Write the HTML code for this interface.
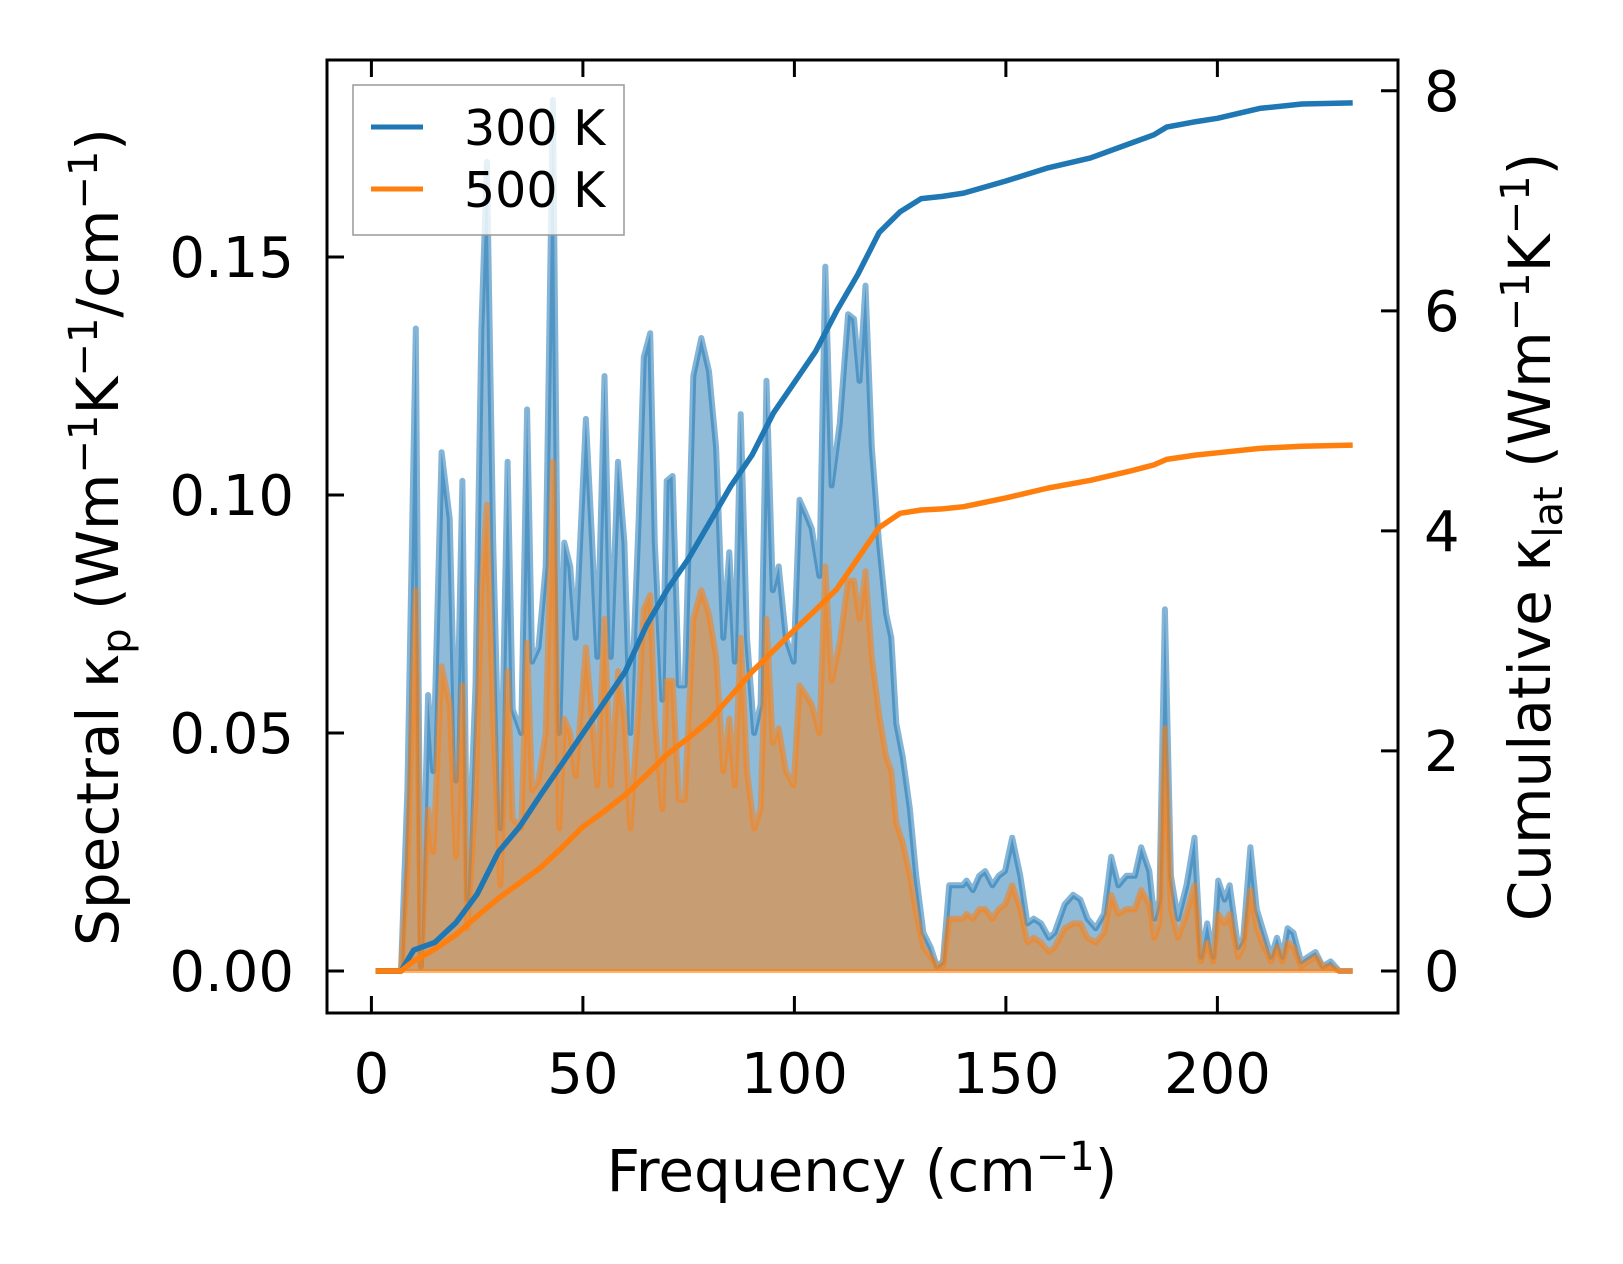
<!DOCTYPE html>
<html><head><meta charset="utf-8"><style>
html,body{margin:0;padding:0;background:#fff;}
svg{display:block;font-family:"DejaVu Sans","Liberation Sans",sans-serif;}
</style></head><body>
<svg id="chart" width="1623" height="1264" viewBox="0 0 1623 1264" xmlns="http://www.w3.org/2000/svg">
<g id="plot"></g>
<g id="axes"></g>
</svg>
<script>
const freqs=[1,7,8.5,10.5,11.7,13.4,14.6,16.6,18.5,20,21.5,22.7,24.6,26,27.3,28.8,30.5,32.2,33.4,35.4,36.8,38,39.5,41.2,42.9,44.4,45.6,47,48.3,50.7,52.2,53.4,55.1,56.6,58.3,59.8,61.2,63.2,64.4,65.9,67,68.8,69.8,71.2,72.7,74.1,76.1,78,79.8,81.5,83.2,84.6,85.9,87.3,88.8,90.5,92,93.4,94.9,96.3,98,99.8,101.2,102.7,104.1,105.9,107.3,108.8,110.7,112.7,114.1,115.4,116.8,118.3,120,121.7,122.9,124.1,125.6,127.3,128.8,130.5,132.2,133.7,135.1,136.6,138.3,139.8,140.7,142.2,143.7,145.1,146.8,148.3,149.8,151.5,153.4,155.1,156.6,158.3,160.2,161.5,163.9,165.9,167.6,169.3,171.2,173.2,174.9,176.6,178.5,180.5,182,183.9,185.1,186.3,187.6,189,190.7,192.7,194.6,196.1,197.6,199,200.2,201.7,202.9,204.9,206.1,207.8,209.3,211,212.7,214.1,215.4,216.6,218,219.8,221.5,223.2,224.9,226.8,228.8,230.2,232];
const spec300=[0,0,0.038,0.135,0.001,0.058,0.042,0.109,0.095,0.04,0.103,0.015,0.06,0.135,0.17,0.09,0.03,0.107,0.055,0.05,0.118,0.065,0.068,0.085,0.183,0.05,0.09,0.085,0.07,0.116,0.09,0.066,0.125,0.066,0.107,0.09,0.05,0.095,0.129,0.134,0.09,0.057,0.103,0.104,0.06,0.06,0.125,0.133,0.126,0.11,0.07,0.088,0.065,0.117,0.07,0.05,0.056,0.124,0.08,0.085,0.07,0.065,0.099,0.096,0.093,0.083,0.148,0.102,0.115,0.138,0.137,0.124,0.144,0.11,0.09,0.075,0.07,0.052,0.045,0.034,0.02,0.008,0.005,0.001,0.002,0.018,0.018,0.018,0.019,0.017,0.02,0.021,0.018,0.02,0.021,0.028,0.02,0.01,0.011,0.01,0.007,0.008,0.014,0.016,0.015,0.011,0.009,0.012,0.024,0.018,0.02,0.02,0.026,0.021,0.011,0.015,0.076,0.02,0.011,0.018,0.028,0.003,0.01,0.003,0.019,0.015,0.018,0.005,0.007,0.026,0.013,0.008,0.003,0.007,0.003,0.009,0.008,0.002,0.003,0.004,0.001,0.002,0,0,0];
const spec500=[0,0,0.022,0.08,0.001,0.034,0.025,0.064,0.056,0.024,0.06,0.009,0.036,0.08,0.098,0.053,0.018,0.063,0.032,0.03,0.069,0.038,0.04,0.05,0.107,0.03,0.053,0.05,0.041,0.068,0.053,0.039,0.074,0.039,0.063,0.053,0.03,0.056,0.076,0.079,0.053,0.034,0.061,0.061,0.036,0.036,0.074,0.08,0.075,0.066,0.042,0.053,0.039,0.07,0.042,0.03,0.034,0.074,0.048,0.051,0.042,0.039,0.06,0.058,0.056,0.05,0.085,0.061,0.069,0.082,0.082,0.074,0.084,0.066,0.054,0.045,0.042,0.031,0.027,0.02,0.012,0.005,0.003,0.001,0.001,0.011,0.011,0.011,0.012,0.011,0.013,0.013,0.011,0.013,0.014,0.018,0.013,0.006,0.007,0.006,0.004,0.005,0.009,0.01,0.01,0.007,0.006,0.008,0.016,0.012,0.013,0.013,0.017,0.014,0.007,0.01,0.051,0.013,0.007,0.012,0.018,0.002,0.006,0.002,0.012,0.01,0.012,0.003,0.005,0.017,0.009,0.005,0.002,0.005,0.002,0.006,0.005,0.001,0.002,0.003,0.001,0.001,0,0,0];
const cumFreqs=[1,7,10,15,20,25,30,35,40,45,50,55,60,65,70,75,80,85,90,95,100,105,110,115,120,125,130,135,140,150,160,170,180,185,188,195,200,210,220,232];
const cum300=[0,0,0.19,0.26,0.44,0.7,1.08,1.31,1.6,1.88,2.16,2.44,2.72,3.14,3.47,3.75,4.08,4.41,4.69,5.07,5.35,5.63,6.0,6.33,6.71,6.9,7.02,7.04,7.07,7.18,7.3,7.39,7.53,7.6,7.67,7.72,7.75,7.84,7.88,7.89];
const cum500=[0,0,0.09,0.2,0.33,0.5,0.66,0.8,0.94,1.12,1.31,1.45,1.6,1.78,1.97,2.12,2.28,2.5,2.72,2.91,3.1,3.28,3.47,3.75,4.03,4.16,4.19,4.2,4.22,4.3,4.39,4.46,4.55,4.6,4.65,4.69,4.71,4.75,4.77,4.78];
const xTicks=[0,50,100,150,200];
const yLeftTicks=[0,0.05,0.10,0.15];
const yLeftLabels=["0.00","0.05","0.10","0.15"];
const yRightTicks=[0,2,4,6,8];

const L=327,R=1398,T=60,B=1013;
const xmin=-10.5,xmax=242.7,ylmin=-0.00882,ylmax=0.1914,yrmin=-0.382,yrmax=8.28;
const X=v=>L+(v-xmin)/(xmax-xmin)*(R-L);
const YL=v=>B-(v-ylmin)/(ylmax-ylmin)*(B-T);
const YR=v=>B-(v-yrmin)/(yrmax-yrmin)*(B-T);
const NS="http://www.w3.org/2000/svg";
function mk(tag,attrs,parent){const e=document.createElementNS(NS,tag);for(const k in attrs)e.setAttribute(k,attrs[k]);parent.appendChild(e);return e;}
const plot=document.getElementById('plot'),axes=document.getElementById('axes');
mk('clipPath',{id:'clip'},plot).appendChild(document.createElementNS(NS,'rect'));
const cr=plot.querySelector('#clip rect');cr.setAttribute('x',L);cr.setAttribute('y',T);cr.setAttribute('width',R-L);cr.setAttribute('height',B-T);
const g=mk('g',{'clip-path':'url(#clip)'},plot);
function linePts(xs,ys,fy){return xs.map((x,i)=>X(x).toFixed(1)+','+fy(ys[i]).toFixed(1)).join(' ');}
function area(xs,ys,color,name){
  const pts=linePts(xs,ys,YL)+' '+X(xs[xs.length-1]).toFixed(1)+','+YL(0)+' '+X(xs[0]).toFixed(1)+','+YL(0);
  const p=mk('polygon',{points:pts,fill:color,'fill-opacity':0.5},g);
  
  
  const l=mk('polyline',{points:linePts(xs,ys,YL),fill:'none',stroke:color,'stroke-width':6,'stroke-opacity':0.55,'stroke-linejoin':'round'},g);
  
  
}
area(freqs,spec300,'#1f77b4','spectral-300k');
area(freqs,spec500,'#ff7f0e','spectral-500k');
const base=mk('line',{x1:X(1),x2:X(232),y1:YL(0),y2:YL(0),stroke:'#ff7f0e','stroke-width':4,'stroke-opacity':0.6},g);


const c3=mk('polyline',{points:linePts(cumFreqs,cum300,YR),fill:'none',stroke:'#1f77b4','stroke-width':5.5,'stroke-linejoin':'round'},g);


const c5=mk('polyline',{points:linePts(cumFreqs,cum500,YR),fill:'none',stroke:'#ff7f0e','stroke-width':5.5,'stroke-linejoin':'round'},g);



const fs=56;
xTicks.forEach(v=>{
  const x=X(v);
  const t1=mk('line',{x1:x,x2:x,y1:B,y2:B-17,stroke:'#000','stroke-width':3},axes);
  
  
  const t2=mk('line',{x1:x,x2:x,y1:T,y2:T+17,stroke:'#000','stroke-width':3},axes);
  
  
  const tx=mk('text',{x:x,y:1093,'text-anchor':'middle','font-size':fs},axes);tx.textContent=v;
  
  
});
yLeftTicks.forEach((v,i)=>{
  const y=YL(v);
  const t=mk('line',{x1:L,x2:L+17,y1:y,y2:y,stroke:'#000','stroke-width':3},axes);
  
  
  const tx=mk('text',{x:294,y:y+20,'text-anchor':'end','font-size':fs},axes);tx.textContent=yLeftLabels[i];
  
  
});
yRightTicks.forEach(v=>{
  const y=YR(v);
  const t=mk('line',{x1:R,x2:R-17,y1:y,y2:y,stroke:'#000','stroke-width':3},axes);
  
  
  const tx=mk('text',{x:1424,y:y+20,'text-anchor':'start','font-size':fs},axes);tx.textContent=v;
  
  
});
const frame=mk('rect',{x:L,y:T,width:R-L,height:B-T,fill:'none',stroke:'#000','stroke-width':3},axes);


</script>
<svg style="position:absolute;left:0;top:0" width="1623" height="1264">
  <g font-family="DejaVu Sans, Liberation Sans, sans-serif" font-size="58">
    <text x="862" y="1191" text-anchor="middle">Frequency (cm<tspan font-size="40" dy="-21">−1</tspan><tspan dy="21">)</tspan></text>
    <text transform="translate(118,537) rotate(-90)" text-anchor="middle">Spectral κ<tspan font-size="40" dy="12">p</tspan><tspan dy="-12"> (Wm</tspan><tspan font-size="40" dy="-21">−1</tspan><tspan dy="21">K</tspan><tspan font-size="40" dy="-21">−1</tspan><tspan dy="21">/cm</tspan><tspan font-size="40" dy="-21">−1</tspan><tspan dy="21">)</tspan></text>
    <text transform="translate(1550,537) rotate(-90)" text-anchor="middle">Cumulative κ<tspan font-size="40" dy="12">lat</tspan><tspan dy="-12"> (Wm</tspan><tspan font-size="40" dy="-21">−1</tspan><tspan dy="21">K</tspan><tspan font-size="40" dy="-21">−1</tspan><tspan dy="21">)</tspan></text>
  </g>
  <g>
    <rect x="353" y="85" width="271" height="150" fill="#fff" fill-opacity="0.8" stroke="#999" stroke-width="1.5"/>
    <line x1="371" x2="423" y1="127" y2="127" stroke="#1f77b4" stroke-width="5"/>
    <text x="464" y="145" font-family="DejaVu Sans, Liberation Sans, sans-serif" font-size="49">300 K</text>
    <line x1="371" x2="423" y1="189" y2="189" stroke="#ff7f0e" stroke-width="5"/>
    <text x="464" y="207" font-family="DejaVu Sans, Liberation Sans, sans-serif" font-size="49">500 K</text>
  </g>
</svg>
</body></html>
